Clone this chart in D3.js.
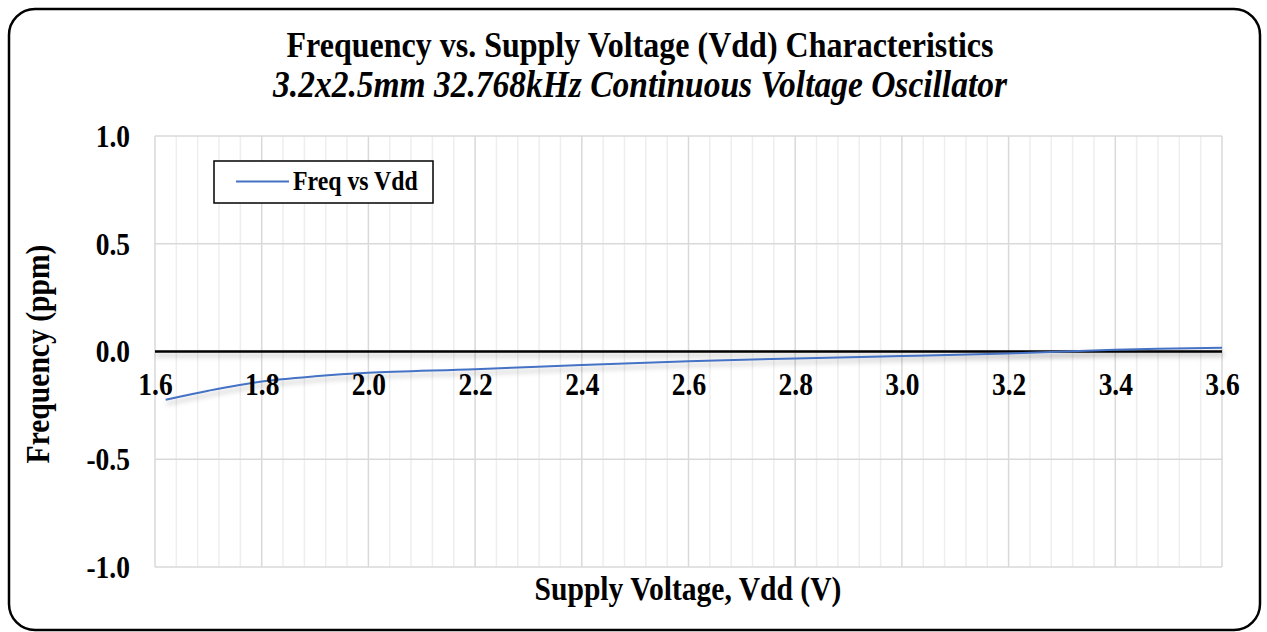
<!DOCTYPE html>
<html><head><meta charset="utf-8">
<script src="https://cdn.jsdelivr.net/npm/d3@7"></script>
<style>body{margin:0;background:#fff}svg{display:block}text{font-family:"Liberation Serif","Times New Roman",serif;fill:#000}</style>
</head><body><svg id="c" width="1267" height="632"></svg>
<script>
const voltage = [1.62, 1.7, 1.8, 1.9, 2.0, 2.2, 2.4, 2.6, 2.8, 3.0, 3.2, 3.4, 3.6];
const freqPpm = [-0.224, -0.182, -0.139, -0.115, -0.099, -0.082, -0.063, -0.045, -0.032, -0.021, -0.009, 0.008, 0.017];
const xTicks = [1.6, 1.8, 2.0, 2.2, 2.4, 2.6, 2.8, 3.0, 3.2, 3.4, 3.6];
const yTicks = [1.0, 0.5, 0.0, -0.5, -1.0];
const seriesName = "Freq vs Vdd";
const title = "Frequency vs. Supply Voltage (Vdd) Characteristics";
const subtitle = "3.2x2.5mm 32.768kHz Continuous Voltage Oscillator";
const xTitle = "Supply Voltage, Vdd (V)";
const yTitle = "Frequency (ppm)";

const SY = 1.12; // vertical text stretch
const svg = d3.select("#c");
const L = 155, R = 1222, T = 136, B = 567;
const x = d3.scaleLinear().domain([1.6, 3.6]).range([L, R]);
const y = d3.scaleLinear().domain([-1, 1]).range([B, T]);
const fmt = d => d.toFixed(1);

const defs = svg.append("defs");
const f = defs.append("filter").attr("id","sh").attr("filterUnits","userSpaceOnUse")
  .attr("x",0).attr("y",0).attr("width",1267).attr("height",632);
f.append("feDropShadow").attr("dx",1).attr("dy",4).attr("stdDeviation",2.5).attr("flood-color","#000").attr("flood-opacity",0.25);

function txt(px, py, str, size, opts = {}) {
  const t = svg.append("text")
    .attr("transform", `translate(${px},${py}) ${opts.rot ? "rotate(-90)" : ""} scale(1,${SY})`)
    .attr("text-anchor", opts.anchor || "middle")
    .attr("font-size", size).attr("font-weight", "bold").text(str);
  if (opts.italic) t.attr("font-style", "italic");
  return t;
}

// outer border
svg.append("rect").attr("x",9).attr("y",9).attr("width",1251).attr("height",621).attr("rx",26)
  .attr("fill","#fff").attr("stroke","#000").attr("stroke-width",2.5);

// minor vertical grid
const minor = d3.range(0, 51).map(i => 1.6 + i*0.04).filter((v,i) => i % 5 !== 0);
svg.append("g").selectAll("line").data(minor).join("line")
  .attr("x1", d=>x(d)).attr("x2", d=>x(d)).attr("y1", T).attr("y2", B)
  .attr("stroke","#eeeeee").attr("stroke-width",1.5);
// major vertical grid
svg.append("g").selectAll("line").data(xTicks).join("line")
  .attr("x1", d=>x(d)).attr("x2", d=>x(d)).attr("y1", T).attr("y2", B)
  .attr("stroke","#d9d9d9").attr("stroke-width",1.5);
// horizontal grid
svg.append("g").selectAll("line").data(yTicks).join("line")
  .attr("x1", L).attr("x2", R).attr("y1", d=>y(d)).attr("y2", d=>y(d))
  .attr("stroke","#d9d9d9").attr("stroke-width",1.5);

// zero line
svg.append("line").attr("x1",L).attr("x2",R).attr("y1",y(0)).attr("y2",y(0))
  .attr("stroke","#000").attr("stroke-width",2.5).attr("filter","url(#sh)");

// series
const line = d3.line().x((d,i)=>x(voltage[i])).y(d=>y(d)).curve(d3.curveCatmullRom.alpha(0.5));
svg.append("path").datum(freqPpm).attr("d", line).attr("fill","none")
  .attr("stroke","#4472C4").attr("stroke-width",2).attr("filter","url(#sh)");

// x tick labels
const xAxis = d3.axisBottom(x).tickValues(xTicks).tickFormat(fmt).tickSize(0).tickPadding(0);
const gx = svg.append("g").attr("transform",`translate(0,${y(0)})`).call(xAxis);
gx.select(".domain").remove();
gx.selectAll(".tick text").attr("dy",null).attr("y",null)
  .attr("transform",`translate(0,43.5) scale(1,${SY})`)
  .attr("font-size",27.5).attr("font-weight","bold").attr("fill","#000")
  .attr("font-family","Liberation Serif, serif");

// y tick labels
const yAxis = d3.axisLeft(y).tickValues(yTicks).tickFormat(fmt).tickSize(0).tickPadding(0);
const gy = svg.append("g").attr("transform",`translate(130,0)`).call(yAxis);
gy.select(".domain").remove();
gy.selectAll(".tick text").attr("dy",null).attr("x",null)
  .attr("transform",`translate(0,10.3) scale(1,${SY})`)
  .attr("font-size",27.5).attr("font-weight","bold").attr("fill","#000")
  .attr("font-family","Liberation Serif, serif");

// titles
txt(640, 57, title, 32);
txt(640, 97, subtitle, 33.5, {italic: true});
txt(688, 600, xTitle, 29.6);
txt(49, 354, yTitle, 29.6, {rot: true});

// legend
svg.append("rect").attr("x",214).attr("y",161).attr("width",219).attr("height",42)
  .attr("fill","#fff").attr("stroke","#000").attr("stroke-width",1.5);
svg.append("line").attr("x1",236).attr("x2",289).attr("y1",181.5).attr("y2",181.5)
  .attr("stroke","#4472C4").attr("stroke-width",2);
txt(293, 189.5, seriesName, 23.8, {anchor: "start"});
</script></body></html>
